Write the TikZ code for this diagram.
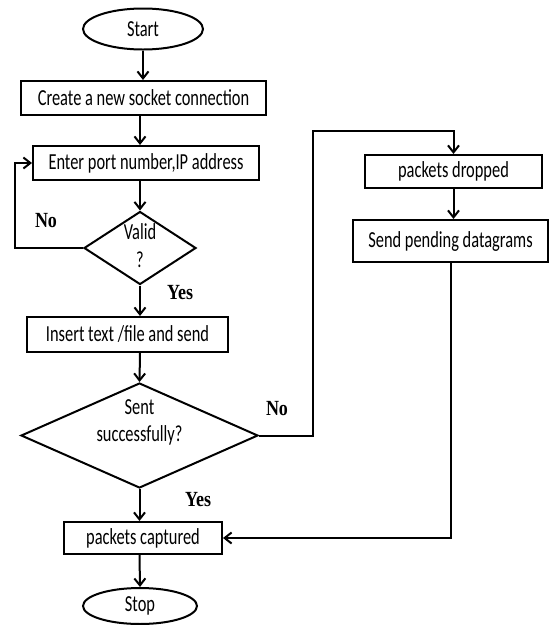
\documentclass[tikz,border=0pt]{standalone}
\usepackage{fontspec}
\usepackage{graphicx}
\setmainfont{Carlito}
\newfontfamily\answerfont{Liberation Serif}
\usetikzlibrary{shapes.geometric,arrows.meta}
\newcommand{\tallText}[1]{\scalebox{1}[1.4]{#1}}

\begin{document}
\begin{tikzpicture}[
  x=1pt, y=1pt,
  % --- outline-only flowchart shapes
  every node/.append style={font=\fontsize{16.4}{19.5}\selectfont},
  term/.style={draw, ellipse, line width=2pt, inner sep=0pt},
  procbox/.style={draw, rectangle, line width=2pt, inner sep=0pt},
  decision/.style={draw, diamond, line width=2pt, inner sep=0pt},
  arr/.style={line width=2pt, -{Straight Barb[length=7pt,width=11pt]}},
  answer/.style={font=\answerfont\bfseries\fontsize{18}{20}\selectfont},
]
\useasboundingbox (0,0) rectangle (550,-625);

%========================
% Main column
%========================
\node[term, minimum width=120pt, minimum height=41pt] (start) at (143,-29) {\tallText{Start}};
\node[procbox, minimum width=245pt, minimum height=34pt] (create) at (143.5,-98)
  {\tallText{Create a new socket connection}};
\node[procbox, minimum width=226pt, minimum height=34pt] (enter) at (146,-163)
  {\tallText{Enter port number,IP address}};
\node[decision, minimum width=112pt, minimum height=73pt,
  label={center:\tallText{\begin{tabular}{@{}c@{}}Valid\\?\end{tabular}}}] (valid) at (140,-248) {};
\node[procbox, minimum width=201pt, minimum height=35pt] (insert) at (127.5,-334.5)
  {\tallText{Insert text /file and send}};
\node[decision, minimum width=237pt, minimum height=105pt,
  label={[yshift=13pt]center:\tallText{\begin{tabular}{@{}c@{}}Sent\\successfully?\end{tabular}}}] (sent) at (139.5,-435.5) {};
\node[procbox, minimum width=158pt, minimum height=32pt] (captured) at (143,-538)
  {\tallText{packets captured}};
\node[term, minimum width=114pt, minimum height=36pt] (stop) at (140,-606) {\tallText{Stop}};

%========================
% Right branch
%========================
\node[procbox, minimum width=177pt, minimum height=33pt] (dropped) at (453.5,-171.5)
  {\tallText{packets dropped}};
\node[procbox, minimum width=195pt, minimum height=42pt] (pending) at (450.5,-241)
  {\tallText{Send pending datagrams}};

% corner points of the two loops
\coordinate (loopL) at (15,0);
\coordinate (turnR) at (313,-131);

% answers
\node[answer] (noValid) at (46,-221) {\scalebox{1}[1.2]{No}};
\node[answer] (yesValid) at (180,-293) {\scalebox{1}[1.2]{Yes}};
\node[answer] (noSent) at (277,-409) {\scalebox{1}[1.2]{No}};
\node[answer] (yesSent) at (198,-500) {\scalebox{1}[1.2]{Yes}};

% connectors
\draw[arr] (start) -- (start |- create.north);
\draw[arr] (create.south -| valid) -- (enter.north -| valid);
\draw[arr] (enter.south -| valid) -- (valid.north);
\draw[arr] (valid.west) -- (valid.west -| loopL) |- (enter.west);
\draw[arr] (valid.south) -- (insert.north -| valid);
\draw[arr] (insert.south -| valid) -- (sent.north);
\draw[arr] (sent.south) -- (captured.north -| sent);
\draw[arr] (captured.south -| sent) -- (stop.north);
\draw[arr] (sent.east) -| (turnR) -| (dropped.north);
\draw[arr] (dropped) -- (dropped |- pending.north);
\draw[arr] (pending.south) |- (captured.east);

\end{tikzpicture}
\end{document}
